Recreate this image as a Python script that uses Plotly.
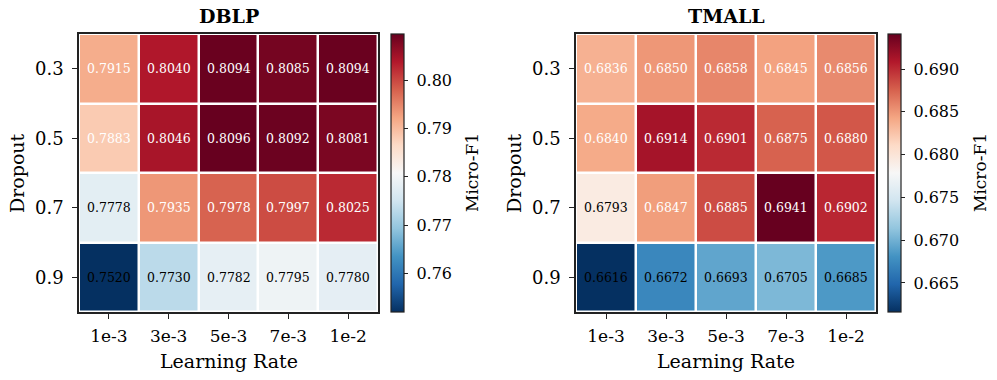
import plotly.graph_objects as go
from plotly.subplots import make_subplots

learning_rates = ["1e-3", "3e-3", "5e-3", "7e-3", "1e-2"]
dropouts = ["0.3", "0.5", "0.7", "0.9"]

dblp = [
    [0.7915, 0.8040, 0.8094, 0.8085, 0.8094],
    [0.7883, 0.8046, 0.8096, 0.8092, 0.8081],
    [0.7778, 0.7935, 0.7978, 0.7997, 0.8025],
    [0.7520, 0.7730, 0.7782, 0.7795, 0.7780],
]
tmall = [
    [0.6836, 0.6850, 0.6858, 0.6845, 0.6856],
    [0.6840, 0.6914, 0.6901, 0.6875, 0.6880],
    [0.6793, 0.6847, 0.6885, 0.6941, 0.6902],
    [0.6616, 0.6672, 0.6693, 0.6705, 0.6685],
]
dblp_ticks = [0.76, 0.77, 0.78, 0.79, 0.80]
tmall_ticks = [0.665, 0.670, 0.675, 0.680, 0.685, 0.690]

# matplotlib RdBu_r (colorbrewer, blue -> red)
rdbu = ['rgb(5,48,97)', 'rgb(33,102,172)', 'rgb(67,147,195)', 'rgb(146,197,222)',
        'rgb(209,229,240)', 'rgb(247,247,247)', 'rgb(253,219,199)', 'rgb(244,165,130)',
        'rgb(214,96,77)', 'rgb(178,24,43)', 'rgb(103,0,31)']
cscale = [[i / (len(rdbu) - 1), c] for i, c in enumerate(rdbu)]

FONT = "DejaVu Serif"
W, H = 997, 380

fig = make_subplots(rows=1, cols=2)

# name, data, colorbar ticks, tick format, plot x-span (px), colorbar x, label x, ylabel x
panels = [
    ("DBLP", dblp, dblp_ticks, "{:.2f}", (79, 378), 391, 472, 17),
    ("TMALL", tmall, tmall_ticks, "{:.3f}", (576, 876), 888, 980, 514),
]
y0, y1 = 1 - 312 / H, 1 - 34 / H

def label(text, x, y, size, angle=0, bold=False):
    return dict(x=x, y=y, xref="paper", yref="paper", xanchor="center",
                yanchor="middle", textangle=angle, showarrow=False,
                text=f"<b>{text}</b>" if bold else text,
                font=dict(family=FONT, size=size, color="black"))

annotations = []
for i, (name, z, ticks, fmt, (xa, xb), cbx, cbt, ylx) in enumerate(panels):
    flat = [v for row in z for v in row]
    zmin, zmax = min(flat), max(flat)
    fig.add_trace(go.Heatmap(
        z=z, x=learning_rates, y=dropouts, colorscale=cscale,
        zmin=zmin, zmax=zmax, xgap=2.5, ygap=2.5, showscale=True,
        colorbar=dict(
            x=cbx / W, xanchor="left", xpad=0, ypad=0,
            y=y0, yanchor="bottom", len=y1 - y0,
            lenmode="fraction", thickness=13, outlinecolor="#222", outlinewidth=1.2,
            tickvals=ticks, ticktext=["\u00a0" + fmt.format(t) for t in ticks],
            ticks="outside", ticklen=4, tickcolor="#222",
            tickfont=dict(family=FONT, size=16, color="black"),
        ),
    ), row=1, col=i + 1)
    ax = "" if i == 0 else "2"
    fig.update_layout(**{
        f"xaxis{ax}": dict(domain=[xa / W, xb / W]),
        f"yaxis{ax}": dict(domain=[y0, y1]),
    })
    for r, d in enumerate(dropouts):
        for c, lr in enumerate(learning_rates):
            v = z[r][c]
            col = "white" if (v - zmin) / (zmax - zmin) > 0.6 else "black"
            annotations.append(dict(
                x=c, y=r, xref=f"x{ax}", yref=f"y{ax}", text=f"{v:.4f}",
                showarrow=False, font=dict(family=FONT, size=12.5, color=col)))
    xc = (xa + xb) / 2 / W
    annotations.append(label(name, xc, 1 - 16 / H, 19, bold=True))
    annotations.append(label("Learning Rate", xc, 1 - 361 / H, 19))
    annotations.append(label("Dropout", ylx / W, (y0 + y1) / 2, 19, angle=-90))
    annotations.append(label("Micro-F1", cbt / W, (y0 + y1) / 2, 17, angle=-90))

fig.update_xaxes(type="category", showline=True, mirror=True, linecolor="#222",
                 linewidth=1.5, ticks="outside", ticklen=5, tickcolor="#222",
                 ticklabelstandoff=3,
                 tickfont=dict(family=FONT, size=17, color="black"))
fig.update_yaxes(type="category", showline=True, mirror=True, linecolor="#222",
                 linewidth=1.5, ticks="outside", ticklen=5, tickcolor="#222",
                 autorange="reversed", ticklabelstandoff=5,
                 tickfont=dict(family=FONT, size=18, color="black"))

fig.update_layout(width=W, height=H,
                  margin=dict(l=0, r=0, t=0, b=0, autoexpand=False),
                  plot_bgcolor="white", paper_bgcolor="white",
                  annotations=annotations, showlegend=False)

# drop the browser's default page margin so the figure sits at (0, 0)
fig.write_html("out.html", config={"displayModeBar": False},
               post_script="document.body.style.margin='0';")
